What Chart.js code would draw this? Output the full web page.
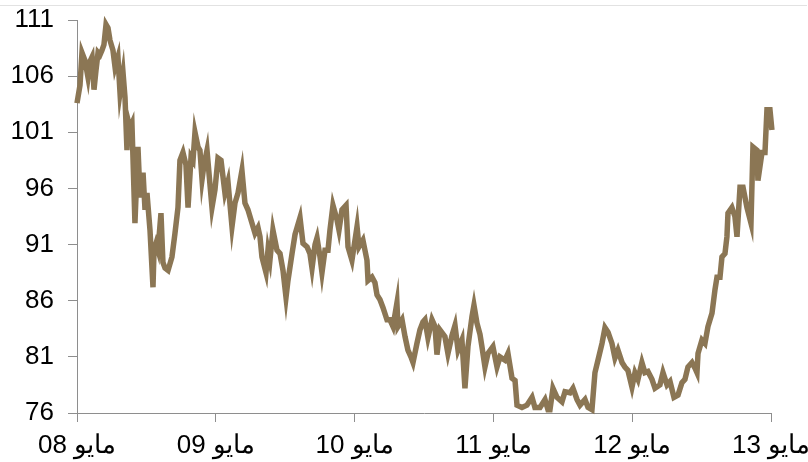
<!DOCTYPE html>
<html>

<head>
    <meta charset="UTF-8">
    <title>Index</title>
    <script src="https://cdn.jsdelivr.net/npm/chart.js"></script>
    <style>
        body { margin: 0; background: #fff; }
        #wrap { position: relative; width: 808px; height: 462px; }
        #topline { position: absolute; left: 0; top: 5px; width: 807px; height: 1px; background: #e2e2e2; }
    </style>
</head>

<body>
    <div id="wrap">
        <div id="topline"></div>
        <canvas id="myChart" width="808" height="462"></canvas>
    </div>
</body>
<script>
    // months since May 2008
    var months = [0, 0.26, 0.43, 0.69, 0.95, 1.12, 1.30, 1.47, 1.64, 1.82, 1.99, 2.16, 2.33, 2.51, 2.68, 2.85,
        3.11, 3.29, 3.54, 3.72, 3.98, 4.15, 4.32, 4.41, 4.58, 4.75, 5.01, 5.27, 5.45, 5.71, 5.88, 6.05, 6.31,
        6.57, 6.66, 6.83, 7.00, 7.26, 7.43, 7.61, 7.87, 8.21, 8.47, 8.73, 8.90, 9.16, 9.42, 9.60, 9.86, 10.03,
        10.20, 10.46, 10.63, 10.81, 10.98, 11.24, 11.50, 11.67, 11.93, 12.19, 12.45, 12.79, 13.05, 13.40, 13.66,
        13.92, 14.26, 14.52, 14.78, 15.13, 15.39, 15.65, 15.82, 15.99, 16.34, 16.51, 16.68, 16.94, 17.29, 17.55,
        17.81, 18.07, 18.24, 18.59, 18.85, 19.02, 19.28, 19.54, 19.89, 20.14, 20.32, 20.58, 20.75, 21.01, 21.18,
        21.44, 21.70, 21.87, 22.13, 22.48, 22.65, 22.91, 23.26, 23.43, 23.77, 24.21, 24.38, 24.72, 25.07, 25.16,
        25.50, 25.76, 25.94, 26.19, 26.45, 26.80, 27.06, 27.32, 27.66, 27.75, 28.10, 28.36, 28.61, 28.87, 29.05,
        29.39, 29.65, 29.91, 30.08, 30.34, 30.69, 30.95, 31.12, 31.38, 31.81, 32.07, 32.42, 32.68, 32.94, 33.28,
        33.54, 33.80, 34.15, 34.32, 34.58, 34.84, 35.01, 35.27, 35.53, 35.96, 36.31, 36.57, 37.00, 37.26, 37.61,
        37.87, 38.04, 38.47, 38.90, 39.34, 39.59, 40.03, 40.46, 40.72, 40.89, 41.15, 41.50, 41.93, 42.19, 42.62,
        42.88, 43.23, 43.49, 43.92, 44.18, 44.52, 44.78, 45.04, 45.39, 45.65, 45.91, 46.25, 46.51, 46.77, 47.12,
        47.37, 47.63, 47.98, 48.24, 48.50, 48.84, 49.10, 49.36, 49.71, 49.97, 50.40, 50.66, 51.01, 51.27, 51.61,
        51.96, 52.30, 52.56, 52.82, 53.17, 53.43, 53.60, 53.69, 54.03, 54.29, 54.55, 54.90, 55.16, 55.33, 55.59,
        55.76, 56.02, 56.19, 56.28, 56.62, 56.88, 57.06, 57.32, 57.58, 57.92, 58.27, 58.44, 58.79, 58.87, 59.22,
        59.48, 59.65, 59.91, 60.08, 60.17];

    var index = [103.6, 105.2, 108.1, 107.4, 105.9, 107.3, 107.7, 104.8, 106.5, 108.1, 107.9, 108.3, 108.8, 110.6, 110.3, 109.2,
        108.3, 106.8, 107.7, 104.5, 106.3, 104.1, 99.4, 102.1, 101.4, 101.8, 92.9, 99.7, 95.2, 97.4, 94.1, 95.6, 92.3,
        87.2, 90.5, 91.1, 90.5, 93.8, 89.4, 88.9, 88.7, 89.9, 92.0, 94.3, 98.5, 99.2, 98.1, 94.3, 98.8, 98.5,
        101.0, 99.7, 99.4, 96.8, 98.1, 99.4, 96.3, 94.3, 95.9, 98.7, 98.5, 95.6, 96.6, 92.6, 94.7,
        95.6, 97.6, 94.7, 94.1, 92.9, 92.0, 92.5, 91.7, 89.9, 88.5, 90.5, 89.6, 92.3, 90.5, 90.2,
        88.7, 86.3, 87.8, 90.2, 91.9, 92.5, 93.4, 91.1, 90.8, 90.2, 88.9, 91.0, 91.6, 89.9, 88.5,
        90.5, 90.5, 92.3, 94.5, 93.2, 92.3, 94.1, 94.5, 90.8, 89.6, 92.6, 90.8, 91.4, 89.6, 87.8,
        88.1, 87.6, 86.5, 86.1, 85.4, 84.3, 84.3, 83.7, 85.8, 83.7, 84.3, 82.8, 81.6, 81.0, 80.5,
        82.2, 83.4, 84.1, 84.3, 82.7, 84.3, 83.7, 81.2, 83.4, 82.8, 81.3, 82.9, 83.8, 81.6, 82.5,
        78.2, 81.9, 84.6, 85.6, 84.0, 83.0, 81.9, 80.1, 81.3, 81.9, 80.1, 81.0, 80.7, 81.3, 79.1,
        78.9, 76.7, 76.5, 76.7, 77.4, 76.5, 76.5, 77.2, 76.3, 76.3, 78.2, 77.4, 77.0, 77.9, 77.8,
        78.2, 77.2, 76.7, 77.2, 76.5, 76.3, 79.6, 80.7, 82.2, 83.6, 83.2, 82.2, 80.9, 81.6, 80.5,
        80.1, 79.8, 78.3, 79.6, 79.0, 80.5, 79.6, 79.7, 79.0, 78.2, 78.5, 79.6, 78.5, 78.8, 77.4,
        77.6, 78.7, 79.0, 80.1, 80.5, 80.0, 79.6, 81.3, 82.5, 82.2, 83.7, 84.9, 87.0, 88.1, 88.1,
        89.9, 90.2, 91.7, 93.8, 94.3, 93.5, 91.7, 96.1, 96.1, 94.3, 92.9, 99.7, 99.4, 96.7, 99.2,
        99.2, 103.0, 103.0, 101.2, 102.1];

    var xTicks = [0, 12, 24, 36, 48, 60];
    var xLabels = ['مايو 08', 'مايو 09', 'مايو 10', 'مايو 11', 'مايو 12', 'مايو 13'];
    var yTicks = [76, 81, 86, 91, 96, 101, 106, 111];

    var points = [];
    for (var i = 0; i < months.length; i++) {
        points.push({ x: months[i], y: index[i] });
    }

    var axisColor = '#8e8e8e';
    var tickFont = { family: 'Liberation Sans, Arial, sans-serif', size: 26 };

    var ctx = document.getElementById('myChart').getContext('2d');
    var myChart = new Chart(ctx, {
        type: 'line',
        data: {
            datasets: [{
                data: points,
                borderColor: 'rgb(139, 118, 84)',
                borderWidth: 5.5,
                pointRadius: 0,
                tension: 0,
                clip: false
            }]
        },
        options: {
            responsive: false,
            animation: false,
            layout: { padding: { left: 0, right: 37, top: 20, bottom: 0 } },
            plugins: {
                legend: { display: false },
                tooltip: { enabled: false }
            },
            scales: {
                x: {
                    type: 'linear',
                    min: 0,
                    max: 60,
                    afterBuildTicks: function (axis) {
                        axis.ticks = xTicks.map(function (v) { return { value: v }; });
                    },
                    afterFit: function (axis) {
                        axis.height = 49;
                        axis.paddingLeft = 0;
                        axis.paddingRight = 0;
                    },
                    grid: { drawOnChartArea: false, drawTicks: true, tickLength: 9, color: axisColor },
                    border: { display: true, color: axisColor, width: 1 },
                    ticks: {
                        color: '#000',
                        font: tickFont,
                        padding: 8,
                        maxRotation: 0,
                        autoSkip: false,
                        callback: function (v) { return xLabels[xTicks.indexOf(v)]; }
                    }
                },
                y: {
                    min: 76,
                    max: 111,
                    afterBuildTicks: function (axis) {
                        axis.ticks = yTicks.map(function (v) { return { value: v }; });
                    },
                    afterFit: function (axis) {
                        axis.width = 77;
                        axis.paddingTop = 0;
                        axis.paddingBottom = 0;
                    },
                    grid: { drawOnChartArea: false, drawTicks: true, tickLength: 9, color: axisColor },
                    border: { display: true, color: axisColor, width: 1 },
                    ticks: {
                        color: '#000',
                        font: tickFont,
                        padding: 14
                    }
                }
            }
        }
    });
</script>

</html>
